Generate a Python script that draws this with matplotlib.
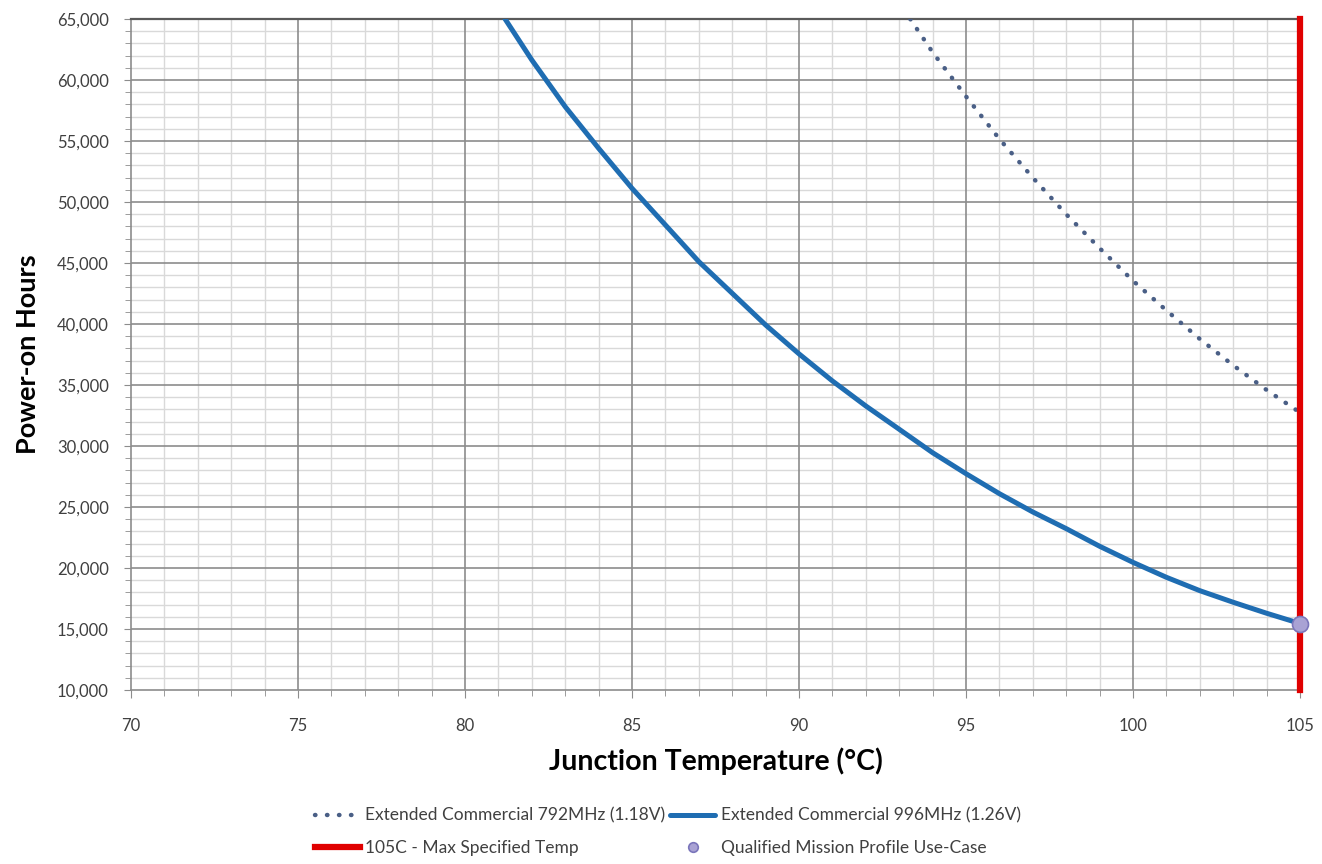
import numpy as np
import matplotlib.pyplot as plt
from matplotlib.ticker import MultipleLocator, FuncFormatter

plt.rcParams['font.family'] = ['Lato', 'DejaVu Sans']

# lifetime curves (junction temp in C -> power-on hours)
temp_792 = [93.33, 94, 95, 96, 97, 98, 99, 100, 101, 102, 103, 104, 105]
hours_792 = [65000, 62270, 58650, 55160, 51990, 48990, 46210, 43540, 41110,
             38770, 36610, 34590, 32740]

temp_996 = [81.2, 82, 83, 84, 85, 86, 87, 88, 89, 90, 91, 92, 93, 94, 95,
            96, 97, 98, 99, 100, 101, 102, 103, 104, 105]
hours_996 = [65000, 61640, 57810, 54400, 51120, 48115, 45110, 42515, 39920,
             37550, 35330, 33280, 31370, 29450, 27730, 26090, 24590, 23225,
             21780, 20460, 19235, 18140, 17190, 16290, 15450]

max_temp = 105
use_case_temp = [105]
use_case_hours = [15450]

label_792 = 'Extended Commercial 792MHz (1.18V)'
label_996 = 'Extended Commercial 996MHz (1.26V)'
label_max = '105C - Max Specified Temp'
label_use = 'Qualified Mission Profile Use-Case'

fig = plt.figure(figsize=(13.22, 8.64), dpi=100)
ax = fig.add_axes([0.0991, 0.2014, 0.8843, 0.7766])

ax.set_xlim(70, 105)
ax.set_ylim(10000, 65000)

ax.xaxis.set_major_locator(MultipleLocator(5))
ax.xaxis.set_minor_locator(MultipleLocator(1))
ax.yaxis.set_major_locator(MultipleLocator(5000))
ax.yaxis.set_minor_locator(MultipleLocator(1000))
ax.yaxis.set_major_formatter(FuncFormatter(lambda v, p: f'{int(v):,}'))

# light minor grid first, darker major lines drawn on top of it
ax.grid(which='minor', color='#d9d9d9', linewidth=1.0, zorder=0)
ax.set_axisbelow(True)
for xv in np.arange(75, 105, 5):
    ax.axvline(xv, color='#8c8c8c', linewidth=1.2, zorder=1)
for yv in np.arange(15000, 65000, 5000):
    ax.axhline(yv, color='#8c8c8c', linewidth=1.2, zorder=1)

for s in ['left', 'bottom']:
    ax.spines[s].set_color('#8c8c8c')
    ax.spines[s].set_linewidth(1.2)
ax.spines['top'].set_color('#5a5a5a')
ax.spines['top'].set_linewidth(1.6)
ax.spines['right'].set_visible(False)

ax.tick_params(axis='x', which='major', length=6, color='#8c8c8c', pad=14,
               labelsize=12, labelcolor='#404040')
ax.tick_params(axis='x', which='minor', length=4, color='#8c8c8c')
ax.tick_params(axis='y', which='major', length=5, color='#8c8c8c', pad=11,
               labelsize=12, labelcolor='#404040')
ax.tick_params(axis='y', which='minor', length=4, color='#8c8c8c')

l792, = ax.plot(temp_792, hours_792, color='#4a5f86', linewidth=3.2,
                linestyle=(0, (0.1, 2.6)), dash_capstyle='round', zorder=3,
                label=label_792)
l996, = ax.plot(temp_996, hours_996, color='#1f6db2', linewidth=3.6,
                solid_capstyle='round', zorder=3, label=label_996)
lmax = ax.axvline(max_temp, color='#e00000', linewidth=4.5, zorder=4,
                  clip_on=False, label=label_max)
luse, = ax.plot(use_case_temp, use_case_hours, linestyle='none', marker='o',
                markersize=11.5, markerfacecolor='#a9a2d4',
                markeredgecolor='#7b76bb', markeredgewidth=1.2, zorder=5,
                clip_on=False, label=label_use)

ax.set_xlabel('Junction Temperature (°C)', fontsize=20.5, fontweight='bold',
              labelpad=10)
ax.set_ylabel('Power-on Hours', fontsize=19.5, fontweight='bold', labelpad=12)

fig.legend(handles=[l792, lmax, l996, luse], ncol=2, loc='center',
           bbox_to_anchor=(0.505, 0.037), frameon=False, fontsize=12.5,
           labelcolor='#404040', handlelength=2.6, handletextpad=0.3,
           columnspacing=0.3, labelspacing=0.95, markerscale=0.6)

fig.savefig('out.png', dpi=100)
